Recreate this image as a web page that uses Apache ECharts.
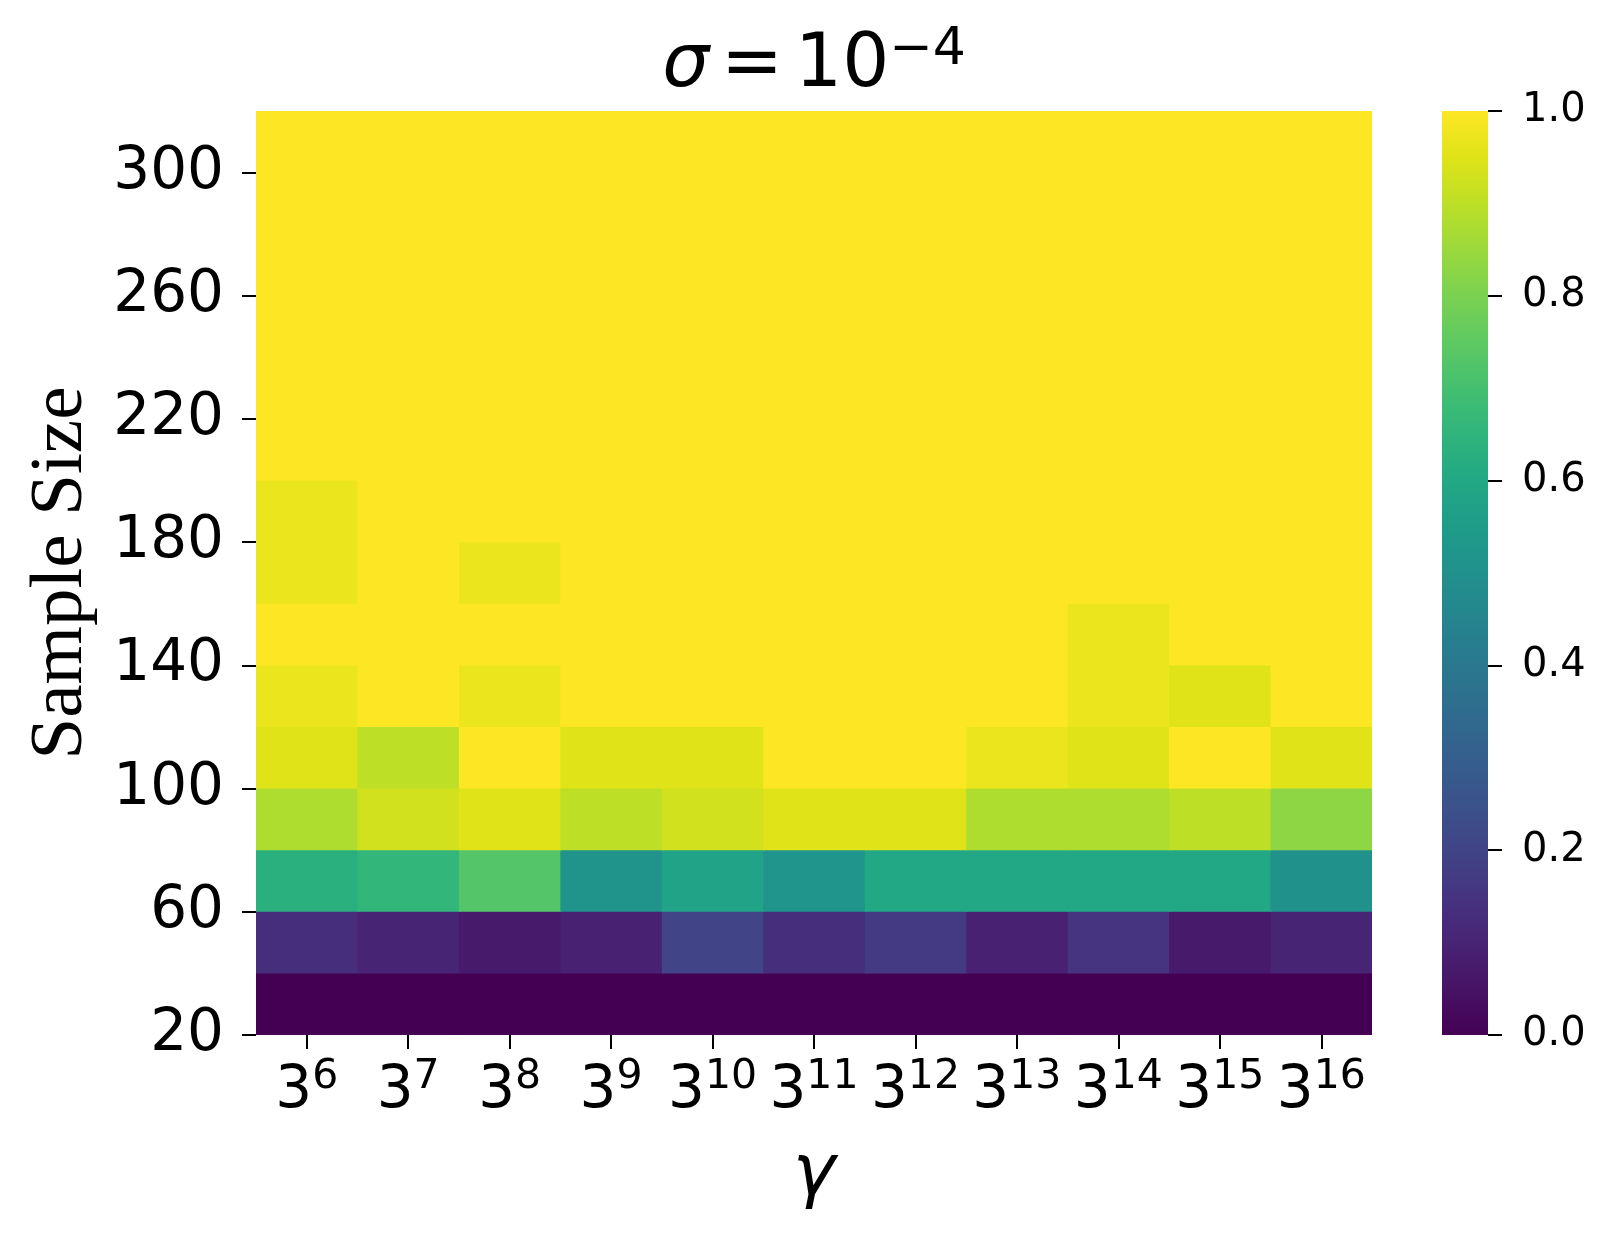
<!DOCTYPE html>
<html>
<head>
<meta charset="utf-8">
<script src="https://cdn.jsdelivr.net/npm/echarts@6/dist/echarts.min.js"></script>
<style>
html,body{margin:0;padding:0;background:#fff;}
#chart{width:1613px;height:1239px;}
</style>
</head>
<body>
<div id="chart"></div>
<script>
// ---- data ----
const gammaExponents = [6, 7, 8, 9, 10, 11, 12, 13, 14, 15, 16];
const sampleSizes = [20, 40, 60, 80, 100, 120, 140, 160, 180, 200, 220, 240, 260, 280, 300];
const yTickLabels = [20, 60, 100, 140, 180, 220, 260, 300];
const colorbarTicks = [0.0, 0.2, 0.4, 0.6, 0.8, 1.0];

// success rate per sample size (row), one value per gamma (column)
const rate20  = [0, 0, 0, 0, 0, 0, 0, 0, 0, 0, 0];
const rate40  = [0.13, 0.10, 0.07, 0.09, 0.20, 0.13, 0.17, 0.09, 0.15, 0.07, 0.10];
const rate60  = [0.63, 0.66, 0.73, 0.51, 0.58, 0.52, 0.60, 0.60, 0.60, 0.60, 0.50];
const rate80  = [0.88, 0.93, 0.95, 0.90, 0.93, 0.95, 0.95, 0.88, 0.88, 0.90, 0.83];
const rate100 = [0.95, 0.90, 1.00, 0.95, 0.95, 1.00, 1.00, 0.97, 0.95, 1.00, 0.95];
const rate120 = [0.97, 1.00, 0.97, 1.00, 1.00, 1.00, 1.00, 1.00, 0.97, 0.95, 1.00];
const rate140 = [1.00, 1.00, 1.00, 1.00, 1.00, 1.00, 1.00, 1.00, 0.97, 1.00, 1.00];
const rate160 = [0.97, 1.00, 0.97, 1.00, 1.00, 1.00, 1.00, 1.00, 1.00, 1.00, 1.00];
const rate180 = [0.97, 1.00, 1.00, 1.00, 1.00, 1.00, 1.00, 1.00, 1.00, 1.00, 1.00];
const rate200 = [1, 1, 1, 1, 1, 1, 1, 1, 1, 1, 1];
const rate220 = [1, 1, 1, 1, 1, 1, 1, 1, 1, 1, 1];
const rate240 = [1, 1, 1, 1, 1, 1, 1, 1, 1, 1, 1];
const rate260 = [1, 1, 1, 1, 1, 1, 1, 1, 1, 1, 1];
const rate280 = [1, 1, 1, 1, 1, 1, 1, 1, 1, 1, 1];
const rate300 = [1, 1, 1, 1, 1, 1, 1, 1, 1, 1, 1];
const rateRows = [rate20, rate40, rate60, rate80, rate100, rate120, rate140, rate160,
                  rate180, rate200, rate220, rate240, rate260, rate280, rate300];

const viridis = ['#440154','#471365','#482475','#463480','#414487','#3b528b','#355f8d',
  '#2f6c8e','#2a788e','#25848e','#21918c','#1e9c89','#22a884','#2fb47c','#44bf70',
  '#5ec962','#7ad151','#9bd93c','#bddf26','#dfe318','#fde725'];

// ---- build ----
const heatData = [];
rateRows.forEach((row, yi) => row.forEach((v, xi) => heatData.push([xi, sampleSizes[yi], v])));
const ySpan = sampleSizes[1] - sampleSizes[0];

const chart = echarts.init(document.getElementById('chart'), null, {renderer: 'canvas'});
const FONT = 'DejaVu Sans';

function renderCell(params, api) {
  const xi = api.value(0), s = api.value(1);
  const bottom = api.coord([xi, s]);
  const top = api.coord([xi, s + ySpan]);
  const w = api.size([1, 0])[0];
  // cells overlap their right/top neighbours by ~1.5px to avoid anti-aliasing seams
  return {
    type: 'rect',
    shape: {x: bottom[0] - w / 2, y: top[1] - 1.5, width: w + 1.5, height: bottom[1] - top[1] + 1.5},
    style: {fill: api.visual('color')}
  };
}

chart.setOption({
  backgroundColor: '#ffffff',
  animation: false,
  graphic: [{
    type: 'text',
    x: 814, y: 24,
    style: {
      text: '{s|σ}{e|=}{n|10}{p|−4}',
      align: 'center', verticalAlign: 'top',
      fill: '#000',
      rich: {
        s: {fontFamily: FONT, fontStyle: 'italic', fontSize: 74, lineHeight: 80, verticalAlign: 'bottom', fill: '#000'},
        e: {fontFamily: FONT, fontSize: 74, lineHeight: 80, verticalAlign: 'bottom', padding: [0, 12, 0, 12], fill: '#000'},
        n: {fontFamily: FONT, fontSize: 74, lineHeight: 80, verticalAlign: 'bottom', fill: '#000'},
        p: {fontFamily: FONT, fontSize: 52, lineHeight: 40, verticalAlign: 'top', fill: '#000'}
      }
    }
  }],
  grid: [
    {left: 256, top: 111, width: 1116, height: 924, containLabel: false, outerBoundsMode: 'none'},
    {left: 1442, top: 111, width: 46, height: 924, containLabel: false, outerBoundsMode: 'none'}
  ],
  visualMap: {
    type: 'continuous', show: false, min: 0, max: 1, seriesIndex: 0, dimension: 2,
    inRange: {color: viridis}
  },
  xAxis: [
    {
      type: 'category', gridIndex: 0, data: gammaExponents,
      name: 'γ', nameLocation: 'middle', nameGap: 104,
      nameTextStyle: {fontFamily: FONT, fontStyle: 'italic', fontSize: 72, color: '#000'},
      axisLine: {show: false},
      axisTick: {show: true, alignWithLabel: true, interval: 0, length: 14, lineStyle: {color: '#000', width: 2}},
      axisLabel: {
        interval: 0, margin: 22, color: '#000',
        formatter: v => '{b|3}{s|' + v + '}',
        rich: {
          b: {fontFamily: FONT, fontSize: 58, lineHeight: 64, verticalAlign: 'bottom', color: '#000'},
          s: {fontFamily: FONT, fontSize: 41, lineHeight: 31, verticalAlign: 'top', color: '#000'}
        }
      },
      splitLine: {show: false}
    },
    {type: 'category', gridIndex: 1, data: ['c'], show: false}
  ],
  yAxis: [
    {
      type: 'value', gridIndex: 0, position: 'left',
      min: sampleSizes[0], max: sampleSizes[sampleSizes.length - 1] + ySpan,
      name: 'Sample Size', nameLocation: 'middle', nameGap: 157,
      nameTextStyle: {fontFamily: 'Liberation Serif', fontSize: 75, color: '#000'},
      axisLine: {show: false},
      axisTick: {show: true, length: 14, lineStyle: {color: '#000', width: 2}, customValues: yTickLabels},
      axisLabel: {margin: 32, fontFamily: FONT, fontSize: 58, color: '#000', customValues: yTickLabels},
      splitLine: {show: false}
    },
    {
      type: 'value', gridIndex: 1, position: 'right', min: 0, max: 1, interval: 0.2,
      axisLine: {show: false},
      axisTick: {show: true, length: 14, lineStyle: {color: '#000', width: 2}},
      axisLabel: {margin: 34, fontFamily: FONT, fontSize: 40, color: '#000', formatter: v => v.toFixed(1)},
      splitLine: {show: false}
    }
  ],
  series: [
    {
      type: 'custom', xAxisIndex: 0, yAxisIndex: 0, data: heatData,
      encode: {x: 0, y: 1}, renderItem: renderCell, silent: true, clip: true
    },
    {
      type: 'bar', xAxisIndex: 1, yAxisIndex: 1, data: [colorbarTicks[colorbarTicks.length - 1]],
      barWidth: '100%', silent: true,
      itemStyle: {
        color: new echarts.graphic.LinearGradient(0, 1, 0, 0,
          viridis.map((c, i) => ({offset: i / (viridis.length - 1), color: c})))
      }
    }
  ]
});
</script>
</body>
</html>
